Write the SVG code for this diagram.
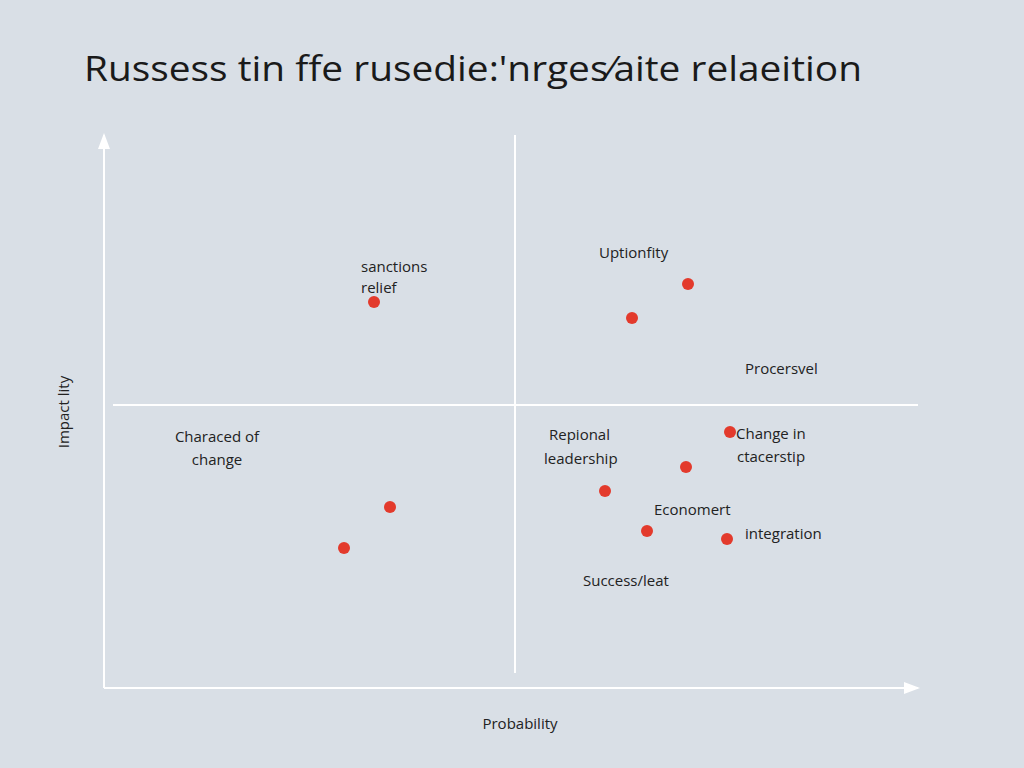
<svg xmlns="http://www.w3.org/2000/svg" width="1024" height="768" viewBox="0 0 1024 768">
<style>
.t{font-family:"Open Sans","Liberation Sans",Arial,sans-serif;font-size:15px;fill:#222}
.d{fill:#e33a2c}
.ax{stroke:#fff;stroke-width:2;fill:none}
</style>
<defs><marker id="a" markerWidth="16" markerHeight="12" refX="14" refY="6" orient="auto" markerUnits="userSpaceOnUse"><path d="M0,0 L16,6 L0,12 Z" fill="#fff"/></marker></defs>
<rect width="1024" height="768" fill="#d9dfe6"/>
<text x="84" y="81" font-family="Open Sans,Liberation Sans,Arial,sans-serif" font-size="35" fill="#1a1a1a" textLength="778" lengthAdjust="spacingAndGlyphs">Russess tin ffe rusedie:'nrges⁄aite relaeition</text>
<g id="connectors">
<line class="ax" x1="104" y1="688" x2="104" y2="135" marker-end="url(#a)"/>
<line class="ax" x1="104" y1="688" x2="918" y2="688" marker-end="url(#a)"/>
<line class="ax" stroke-width="1.5" x1="515" y1="135" x2="515" y2="673"/>
<line class="ax" stroke-width="1.5" x1="113" y1="405" x2="918" y2="405"/>
</g>
<text class="t" x="69" y="412" text-anchor="middle" transform="rotate(-90 69 412)">Impact lity</text>
<text class="t" x="520" y="729" text-anchor="middle">Probability</text>
<g id="points">
<circle class="d" cx="374" cy="302" r="6"/><circle class="d" cx="688" cy="284" r="6"/>
<circle class="d" cx="632" cy="318" r="6"/><circle class="d" cx="730" cy="432" r="6"/>
<circle class="d" cx="686" cy="467" r="6"/><circle class="d" cx="605" cy="491" r="6"/>
<circle class="d" cx="390" cy="507" r="6"/><circle class="d" cx="344" cy="548" r="6"/>
<circle class="d" cx="647" cy="531" r="6"/><circle class="d" cx="727" cy="539" r="6"/>
</g>
<g id="labels">
<text class="t" x="361" y="272">sanctions</text><text class="t" x="361" y="293">relief</text>
<text class="t" x="599" y="258">Uptionfity</text>
<text class="t" x="745" y="374">Procersvel</text>
<text class="t" x="217" y="442" text-anchor="middle">Characed of</text><text class="t" x="217" y="465" text-anchor="middle">change</text>
<text class="t" x="549" y="440">Repional</text><text class="t" x="544" y="464">leadership</text>
<text class="t" x="736" y="439">Change in</text><text class="t" x="737" y="462">ctacerstip</text>
<text class="t" x="654" y="515">Economert</text>
<text class="t" x="745" y="539">integration</text>
<text class="t" x="583" y="586">Success/leat</text>
</g>
</svg>
